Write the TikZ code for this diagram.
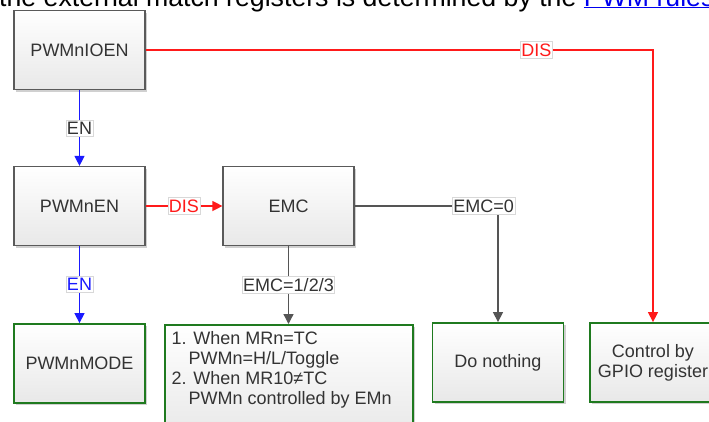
\documentclass[tikz,border=0pt]{standalone}
\usepackage{fontspec}
\setmainfont{Liberation Sans}
\usetikzlibrary{arrows.meta,shadows}
\definecolor{boxborder}{HTML}{5A5A5A}
\definecolor{greenborder}{HTML}{1F7A1F}
\definecolor{redline}{HTML}{FF1A1A}
\definecolor{blueline}{HTML}{1A1AFF}
\definecolor{grayline}{HTML}{555555}
\definecolor{lblborder}{HTML}{D8D8D8}
\definecolor{textdark}{HTML}{333333}
\definecolor{linkblue}{HTML}{0000EE}
\tikzset{
  base/.style={rectangle, top color=white, bottom color=black!9, text=textdark,
    font=\fontsize{18}{20}\selectfont, align=center, inner sep=0pt,
    drop shadow={shadow xshift=2pt, shadow yshift=-2pt, opacity=.3, fill=black!60}},
  graybox/.style={base, draw=boxborder, line width=1.2pt, minimum width=131pt, minimum height=79pt},
  greenbox/.style={base, draw=greenborder, line width=1.8pt, minimum width=131pt, minimum height=79pt},
  lbl/.style={fill=white, draw=lblborder, line width=0.6pt, inner xsep=1pt, inner ysep=2pt,
    font=\fontsize{18}{18}\selectfont, text=textdark},
  tip/.style={-{Triangle[length=10pt,width=10pt]}},
  redarrow/.style={draw=redline, line width=1.3pt, tip},
  bluearrow/.style={draw=blueline, line width=1.3pt, tip},
  grayarrow/.style={draw=grayline, line width=1.3pt, tip},
}
\begin{document}
\begin{tikzpicture}[x=1pt,y=-1pt]
\useasboundingbox (0,0) rectangle (709,421);
\clip (0,0) rectangle (709,421);
\fill[white] (0,0) rectangle (709,421);

% cut-off page text
\node[anchor=base west, inner sep=0pt, font=\fontsize{26.7}{30}\selectfont, text=black] (pagetext) at (-1,6)
  {the external match registers is determined by the \textcolor{linkblue}{\underline{PWM rules}}};

% nodes
\node[graybox] (ioen) at (79.5,50) {PWMnIOEN};
\node[graybox] (pwmen) at (79.5,206) {PWMnEN};
\node[graybox] (emc) at (288.5,206) {EMC};
\node[greenbox] (mode) at (79.5,363.5) {PWMnMODE};
\node[greenbox, minimum width=248pt, minimum height=112pt, anchor=north] (list) at (289,324) {};
\node[anchor=north west, inner sep=0pt, align=left, text=textdark,
      font=\fontsize{18}{20}\selectfont] (listtext) at (171.5,331)
  {1. When MRn=TC\\\hspace*{17pt}PWMn=H/L/Toggle\\2. When MR10≠TC\\\hspace*{17pt}PWMn controlled by EMn};
\node[greenbox] (nothing) at (498,362.5) {Do nothing};
\node[greenbox, minimum width=126pt] (gpio) at (653,362.5) {Control by\\GPIO register};

% connectors
\draw[redarrow] (ioen.east) -- node[lbl, pos=0.77, text=redline] (dis1) {DIS} (ioen.east -| gpio.north) -- (gpio.north);
\draw[bluearrow] (ioen.south) -- node[lbl] (en1) {EN} (pwmen.north);
\draw[redarrow] (pwmen.east) -- node[lbl, text=redline] (dis2) {DIS} (emc.west);
\draw[bluearrow] (pwmen.south) -- node[lbl, text=blueline] (en2) {EN} (mode.north);
\draw[grayarrow] (emc.south) -- node[lbl] (emc123) {EMC=1/2/3} (emc.south |- list.north);
\draw[grayarrow] (emc.east) -- node[lbl, pos=0.9] (emc0) {EMC=0} (emc.east -| nothing.north) -- (nothing.north);
\end{tikzpicture}
\end{document}
